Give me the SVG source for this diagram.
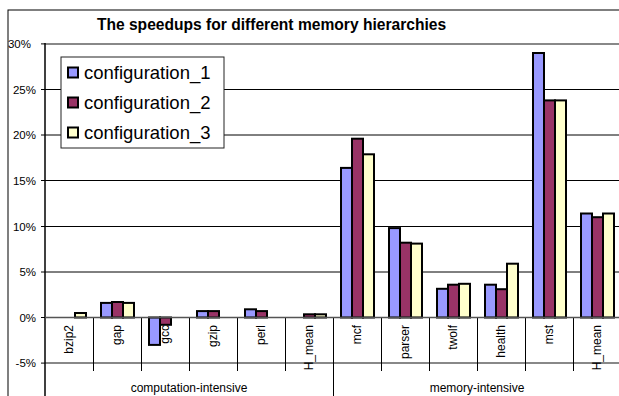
<svg xmlns="http://www.w3.org/2000/svg" width="619" height="396" viewBox="0 0 619 396">
<style>
text{font-family:"Liberation Sans",Arial,sans-serif;fill:#000}
.ax{font-size:11.5px}
.cat{font-size:12px}
.grid{stroke:#000;stroke-width:1}
.bar{stroke:#000;stroke-width:2}
.c1{fill:#9999FF}.c2{fill:#993366}.c3{fill:#FFFFCC}
.tk{stroke:#000;stroke-width:1}
</style>
<rect x="0" y="0" width="619" height="396" fill="#fff"/>
<rect x="8" y="10" width="700" height="500" fill="#fff" stroke="#000" stroke-width="1"/>
<text x="271.5" y="30" text-anchor="middle" style="font-size:15.6px;font-weight:bold">The speedups for different memory hierarchies</text>
<g id="axes">
<line class="grid" x1="45" y1="89.5" x2="620" y2="89.5"/>
<line class="grid" x1="45" y1="135" x2="620" y2="135"/>
<line class="grid" x1="45" y1="180.5" x2="620" y2="180.5"/>
<line class="grid" x1="45" y1="226.5" x2="620" y2="226.5"/>
<line class="grid" x1="45" y1="272" x2="620" y2="272"/>
<line x1="45" y1="43.9" x2="620" y2="43.9" stroke="#888" stroke-width="2"/>
<line x1="45" y1="363.1" x2="620" y2="363.1" stroke="#888" stroke-width="2"/>
<line x1="45" y1="43" x2="45" y2="396" stroke="#000" stroke-width="1.5"/>
<g class="tk">
<line x1="41" y1="43.9" x2="45" y2="43.9"/><line x1="41" y1="89.5" x2="45" y2="89.5"/><line x1="41" y1="135" x2="45" y2="135"/><line x1="41" y1="180.5" x2="45" y2="180.5"/><line x1="41" y1="226.5" x2="45" y2="226.5"/><line x1="41" y1="272" x2="45" y2="272"/><line x1="41" y1="317.5" x2="45" y2="317.5"/><line x1="41" y1="363.1" x2="45" y2="363.1"/>
</g>
<text class="ax" x="31" y="48" text-anchor="end">30%</text>
<text class="ax" x="36" y="93.5" text-anchor="end">25%</text>
<text class="ax" x="36" y="139" text-anchor="end">20%</text>
<text class="ax" x="36" y="184.5" text-anchor="end">15%</text>
<text class="ax" x="36" y="230.5" text-anchor="end">10%</text>
<text class="ax" x="36" y="276" text-anchor="end">5%</text>
<text class="ax" x="36" y="321.5" text-anchor="end">0%</text>
<text class="ax" x="36" y="367" text-anchor="end">-5%</text>
<g class="tk">
<line x1="93.5" y1="317.5" x2="93.5" y2="371"/><line x1="141.5" y1="317.5" x2="141.5" y2="371"/><line x1="189.5" y1="317.5" x2="189.5" y2="371"/><line x1="237.5" y1="317.5" x2="237.5" y2="371"/><line x1="285.5" y1="317.5" x2="285.5" y2="371"/><line x1="333.5" y1="317.5" x2="333.5" y2="396"/><line x1="381.5" y1="317.5" x2="381.5" y2="371"/><line x1="429.5" y1="317.5" x2="429.5" y2="371"/><line x1="477.5" y1="317.5" x2="477.5" y2="371"/><line x1="525.5" y1="317.5" x2="525.5" y2="371"/><line x1="573.5" y1="317.5" x2="573.5" y2="371"/>
</g>
<g class="cat" text-anchor="end">
<text transform="translate(72.5,325) rotate(-90)">bzip2</text>
<text transform="translate(120.5,325) rotate(-90)">gap</text>
<text transform="translate(168.5,325) rotate(-90)">gcc</text>
<text transform="translate(216.5,325) rotate(-90)">gzip</text>
<text transform="translate(264.5,325) rotate(-90)">perl</text>
<text transform="translate(312.5,325) rotate(-90)">H_mean</text>
<text transform="translate(360.5,325) rotate(-90)">mcf</text>
<text transform="translate(408.5,325) rotate(-90)">parser</text>
<text transform="translate(456.5,325) rotate(-90)">twolf</text>
<text transform="translate(504.5,325) rotate(-90)">health</text>
<text transform="translate(552.5,325) rotate(-90)">mst</text>
<text transform="translate(600.5,325) rotate(-90)">H_mean</text>
</g>
<text class="cat" x="189" y="392" text-anchor="middle">computation-intensive</text>
<text class="cat" x="477" y="392" text-anchor="middle">memory-intensive</text>
</g>
<g id="bars">
<rect class="bar c3" x="75" y="313" width="11" height="4.5"/>
<rect class="bar c1" x="101" y="302.9" width="11" height="14.6"/>
<rect class="bar c2" x="112" y="302" width="11" height="15.5"/>
<rect class="bar c3" x="123" y="302.9" width="11" height="14.6"/>
<rect class="bar c1" x="149" y="317.5" width="11" height="27.4"/>
<rect class="bar c2" x="160" y="317.5" width="11" height="7.3"/>
<rect class="bar c1" x="197" y="311.1" width="11" height="6.4"/>
<rect class="bar c2" x="208" y="311.1" width="11" height="6.4"/>
<rect class="bar c1" x="245" y="309.3" width="11" height="8.2"/>
<rect class="bar c2" x="256" y="311.1" width="11" height="6.4"/>
<rect class="bar c2" x="304" y="314.3" width="11" height="3.2"/>
<rect class="bar c3" x="315" y="314.3" width="11" height="3.2"/>
<rect class="bar c1" x="341" y="167.9" width="11" height="149.6"/>
<rect class="bar c2" x="352" y="138.7" width="11" height="178.8"/>
<rect class="bar c3" x="363" y="154.3" width="11" height="163.2"/>
<rect class="bar c1" x="389" y="228.1" width="11" height="89.4"/>
<rect class="bar c2" x="400" y="242.7" width="11" height="74.8"/>
<rect class="bar c3" x="411" y="243.6" width="11" height="73.9"/>
<rect class="bar c1" x="437" y="288.8" width="11" height="28.7"/>
<rect class="bar c2" x="448" y="284.7" width="11" height="32.8"/>
<rect class="bar c3" x="459" y="283.8" width="11" height="33.7"/>
<rect class="bar c1" x="485" y="284.7" width="11" height="32.8"/>
<rect class="bar c2" x="496" y="289.2" width="11" height="28.3"/>
<rect class="bar c3" x="507" y="263.7" width="11" height="53.8"/>
<rect class="bar c1" x="533" y="53" width="11" height="264.5"/>
<rect class="bar c2" x="544" y="100.4" width="11" height="217.1"/>
<rect class="bar c3" x="555" y="100.4" width="11" height="217.1"/>
<rect class="bar c1" x="581" y="213.5" width="11" height="104"/>
<rect class="bar c2" x="592" y="217.2" width="11" height="100.3"/>
<rect class="bar c3" x="603" y="213.5" width="11" height="104"/>
</g>
<line x1="45" y1="317.5" x2="620" y2="317.5" stroke="#555" stroke-width="1.5"/>
<g id="legend">
<rect x="61" y="57" width="163" height="91" fill="#fff" stroke="#222" stroke-width="1"/>
<rect class="bar c1" x="68" y="67.5" width="10" height="10"/>
<rect class="bar c2" x="68" y="97.5" width="10" height="10"/>
<rect class="bar c3" x="68" y="127.5" width="10" height="10"/>
<text x="84" y="79" style="font-size:18.5px">configuration_1</text>
<text x="84" y="109" style="font-size:18.5px">configuration_2</text>
<text x="84" y="139" style="font-size:18.5px">configuration_3</text>
</g>
</svg>
